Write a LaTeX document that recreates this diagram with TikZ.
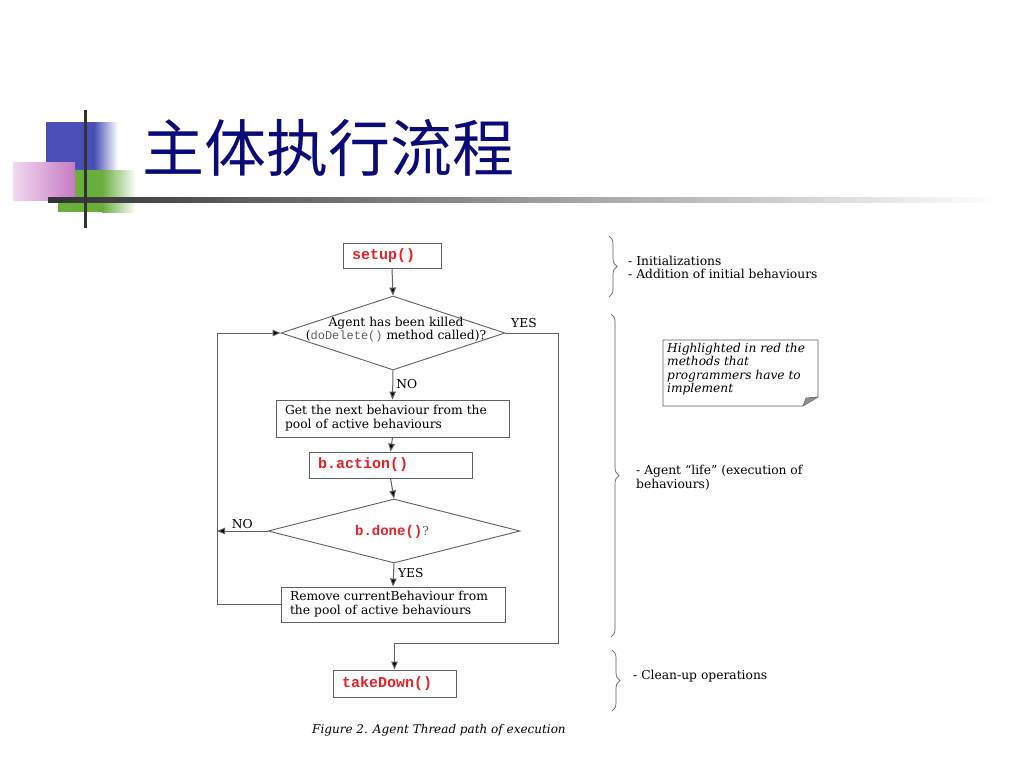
\documentclass[tikz,border=0pt]{standalone}
\usepackage{fontspec}
\setmainfont{DejaVu Serif}
\setmonofont{Liberation Mono}
\newfontfamily\cjk{Noto Sans CJK SC}
\usetikzlibrary{arrows.meta,shapes.geometric,decorations.pathreplacing}
\definecolor{navy}{HTML}{0A0A78}
\definecolor{lgray}{HTML}{606060}
\definecolor{codered}{HTML}{E8202A}
\definecolor{sqblue}{HTML}{4A4FB5}
\definecolor{sqgreen}{HTML}{6AAE3E}
\definecolor{pinkA}{HTML}{F2D8F0}
\definecolor{pinkB}{HTML}{C67AC4}
\begin{document}
\begin{tikzpicture}[x=1pt,y=-1pt,
  txt/.style={font=\fontsize{12.3}{14}\selectfont, inner sep=0pt},
  box/.style={draw=lgray, line width=0.9pt, rectangle, inner xsep=9pt, inner ysep=0pt, align=left, font=\fontsize{12.3}{14}\selectfont},
  dia/.style={draw=lgray, line width=0.9pt, diamond, inner sep=0pt},
  conn/.style={draw=lgray, line width=1pt},
  arr/.style={conn, -{Triangle[length=8pt,width=6.5pt,fill=black]}},
  brc/.style={draw=lgray, line width=0.7pt, decorate, decoration={brace, amplitude=8pt}},
]
\useasboundingbox (0,0) rectangle (1024,768);
\fill[white] (0,0) rectangle (1024,768);

% --- title decoration ---
\fill[sqblue] (46,122) rectangle (94,172);
\shade[left color=sqblue, right color=white] (94,122) rectangle (118,172);
\fill[sqgreen] (58,170) rectangle (102,212);
\shade[left color=sqgreen, right color=white] (102,170) rectangle (136,212);
\shade[left color=pinkA, right color=pinkB] (13,162) rectangle (75,200);
\shade[left color=black!80, right color=white] (48,197.5) rectangle (1000,202.5);
\fill[black!80] (83.5,110) rectangle (86.5,228);
\node[anchor=west, inner sep=0pt, text=navy, font=\cjk\fontsize{62}{62}\selectfont] (title) at (142,148) {主体执行流程};

% --- flowchart nodes ---
\node[box, minimum width=98pt, minimum height=25pt, text width=80pt] (setup) at (392,255.5) {\textcolor{codered}{\fontsize{15}{15}\selectfont\ttfamily\bfseries setup()}};
\node[dia, minimum width=224pt, minimum height=74pt] (d1) at (393,333) {};
\node[txt, align=center] (d1t) at (396,330) {Agent has been killed\\[-1pt](\textcolor{lgray}{\fontsize{12}{12}\selectfont\ttfamily doDelete()} method called)?};
\node[box, minimum width=233pt, minimum height=37pt, text width=215pt, inner xsep=9pt] (get) at (392.5,418.5) {Get the next behaviour from the\\pool of active behaviours};
\node[box, minimum width=163pt, minimum height=26pt, text width=145pt] (act) at (390.5,465) {\textcolor{codered}{\fontsize{15}{15}\selectfont\ttfamily\bfseries b.action()}};
\node[dia, minimum width=252pt, minimum height=64pt] (d2) at (394,531) {};
\node[txt] (d2t) at (392,532) {\textcolor{codered}{\fontsize{14}{14}\selectfont\ttfamily\bfseries b.done()}\textcolor{lgray}{?}};
\node[box, minimum width=224pt, minimum height=35pt, text width=206pt] (rem) at (393,604.5) {Remove currentBehaviour from\\the pool of active behaviours};
\node[box, minimum width=123pt, minimum height=27pt, text width=105pt, inner xsep=9pt] (take) at (394.5,683.5) {\textcolor{codered}{\fontsize{15}{15}\selectfont\ttfamily\bfseries takeDown()}};

% --- connector helper points ---
\coordinate (yesR) at (558,643);
\coordinate (noL) at (217,531);
\coordinate (loopTL) at (217,333);

% --- connectors ---
\draw[arr] (setup.south) -- (d1.north);
\draw[arr] (d1.south) -- node[txt, anchor=west, xshift=3pt, pos=0.45] (no1) {NO} (get.north);
\draw[arr] (get.south) -- (act.north);
\draw[arr] (act.south) -- (d2.north);
\draw[arr] (d2.south) -- node[txt, anchor=west, xshift=4pt, pos=0.4] (yes2) {YES} (rem.north);
\draw[arr] (d2.west) -- node[txt, above, yshift=2pt] (no2) {NO} (noL);
\draw[arr] (rem.west) -| (loopTL) -- (d1.west);
\draw[arr] (d1.east) -| (yesR) -| (take.north);
\node[txt, anchor=west] (yes1) at (511,323) {YES};

% --- braces and annotations ---
\draw[brc] (609,236) -- (609,297);
\node[txt, anchor=north west, align=left] (ann1) at (628,256) {- Initializations\\[-1pt]- Addition of initial behaviours};
\draw[brc] (611,314) -- (611,637);
\node[txt, anchor=north west, align=left] (ann2) at (636,465) {- Agent “life” (execution of\\behaviours)};
\draw[brc] (612,650) -- (612,711);
\node[txt, anchor=west] (ann3) at (633,676) {- Clean-up operations};

% --- note ---
\draw[lgray, line width=0.8pt, fill=white] (663,340) -- (818,340) -- (818,397) -- (803,406) -- (663,406) -- cycle;
\fill[lgray!70] (803,406) -- (806,398) -- (818,397) -- cycle;
\draw[lgray, line width=0.6pt] (803,406) -- (806,398) -- (818,397);
\node[txt, anchor=north west, align=left, font=\fontsize{12.2}{13.5}\selectfont\itshape] (note) at (667,343) {Highlighted in red the\\methods that\\programmers have to\\implement};

% --- caption ---
\node[txt, anchor=west, font=\fontsize{12}{12}\selectfont\itshape] (cap) at (312,730) {Figure 2. Agent Thread path of execution};
\end{tikzpicture}
\end{document}
